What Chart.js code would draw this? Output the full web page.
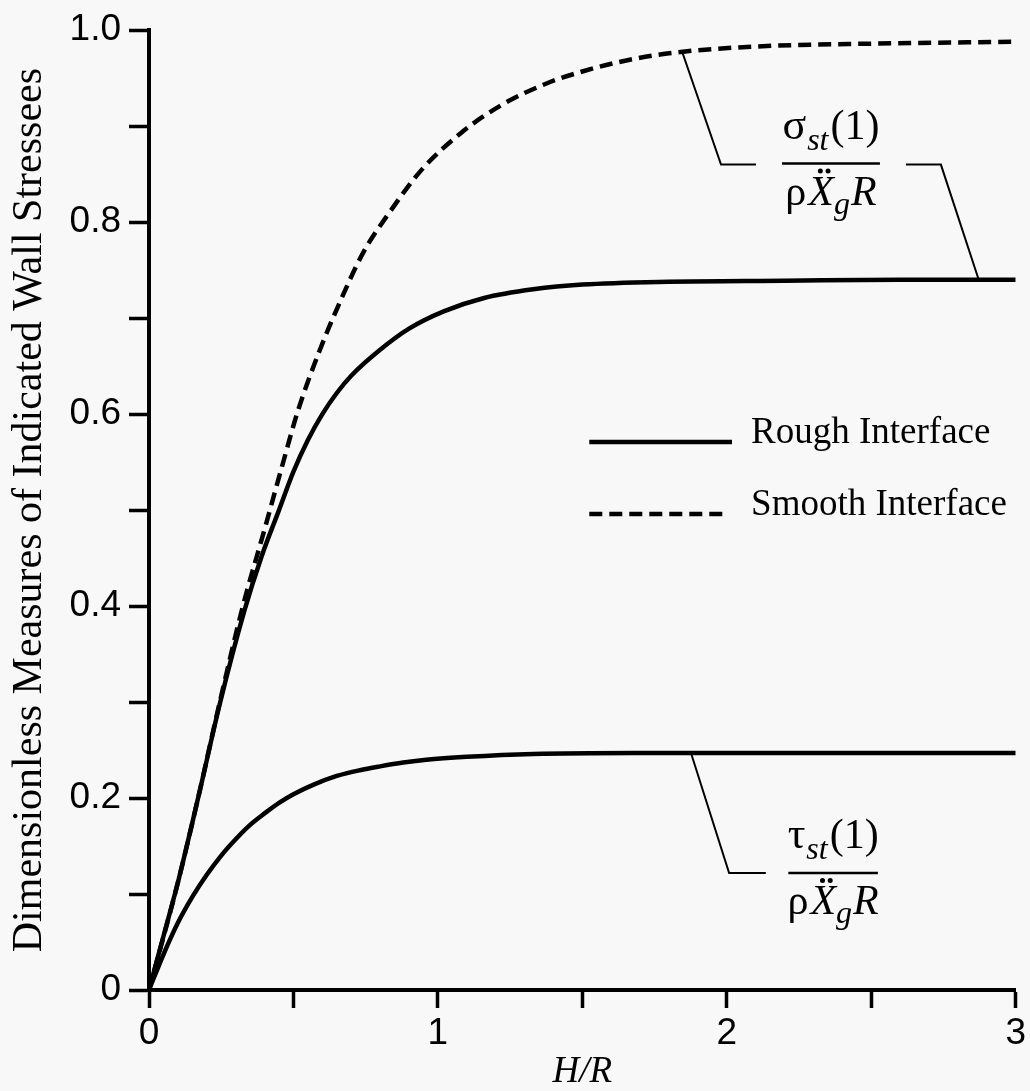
<!DOCTYPE html>
<html><head><meta charset="utf-8">
<script src="https://cdn.jsdelivr.net/npm/chart.js@4.4.0/dist/chart.umd.min.js"></script>
<style>
html,body{margin:0;padding:0;background:#f8f8f8;}
#wrap{width:1030px;height:1091px;position:relative;}
</style></head><body>
<div id="wrap"><canvas id="c" width="1030" height="1091"></canvas></div>
<script>
// ---- data ----
const roughSigmaX = [0, 0.05, 0.10, 0.17, 0.245, 0.33, 0.39, 0.45, 0.50, 0.55, 0.60, 0.65, 0.70, 0.80, 0.90, 1.02, 1.16, 1.33, 1.50, 1.80, 2.20, 2.60, 3.00];
const roughSigmaY = [0, 0.056, 0.112, 0.20, 0.298, 0.395, 0.452, 0.50, 0.54, 0.573, 0.60, 0.622, 0.640, 0.667, 0.689, 0.707, 0.721, 0.730, 0.735, 0.738, 0.739, 0.740, 0.740];
const smoothSigmaX = [0, 0.10, 0.17, 0.245, 0.325, 0.40, 0.46, 0.515, 0.589, 0.651, 0.741, 0.832, 0.945, 1.08, 1.22, 1.38, 1.50, 1.66, 1.83, 2.10, 2.50, 3.00];
const smoothSigmaY = [0, 0.112, 0.20, 0.30, 0.40, 0.48, 0.545, 0.603, 0.665, 0.71, 0.768, 0.81, 0.855, 0.893, 0.922, 0.945, 0.957, 0.969, 0.977, 0.983, 0.986, 0.988];
const roughTauX = [0, 0.05, 0.10, 0.15, 0.20, 0.25, 0.30, 0.35, 0.40, 0.45, 0.50, 0.57, 0.65, 0.73, 0.80, 0.88, 0.96, 1.10, 1.33, 1.68, 2.20, 3.00];
const roughTauY = [0, 0.037, 0.07, 0.097, 0.12, 0.14, 0.157, 0.172, 0.184, 0.195, 0.204, 0.214, 0.223, 0.229, 0.233, 0.237, 0.240, 0.243, 0.246, 0.247, 0.247, 0.247];
const xTickLabels = ['0', '1', '2', '3'];
const yTickLabels = ['0', '0.2', '0.4', '0.6', '0.8', '1.0'];
const legendNames = ['Rough Interface', 'Smooth Interface'];
const xTitle = 'H/R';
const yTitle = 'Dimensionless Measures of Indicated Wall Stressees';

const pts = (xs, ys) => xs.map((v, i) => ({x: v, y: ys[i]}));

const SERIF = '"Liberation Serif", "Times New Roman", serif';
const SANS = '"Liberation Sans", Arial, sans-serif';

function drawParts(ctx, parts, cx, baseY) {
  let total = 0;
  parts.forEach(p => { ctx.font = p.font; p.w = ctx.measureText(p.t).width + (p.extra || 0); total += p.w; });
  let xx = cx - total / 2;
  parts.forEach(p => {
    ctx.font = p.font;
    ctx.textAlign = 'left';
    ctx.textBaseline = 'alphabetic';
    ctx.fillText(p.t, xx, baseY + (p.dy || 0));
    if (p.dots) {
      const top = baseY - p.size * 0.66 - 6;
      ctx.beginPath(); ctx.arc(xx + p.w * 0.47, top, 2.5, 0, Math.PI * 2); ctx.fill();
      ctx.beginPath(); ctx.arc(xx + p.w * 0.77, top, 2.5, 0, Math.PI * 2); ctx.fill();
    }
    xx += p.w;
  });
}

function fraction(ctx, X, Y, sym, x0, x1, yv) {
  const px0 = X(x0), px1 = X(x1), py = Y(yv);
  ctx.lineWidth = 2.5;
  ctx.beginPath(); ctx.moveTo(px0, py); ctx.lineTo(px1, py); ctx.stroke();
  const cx = (px0 + px1) / 2;
  drawParts(ctx, [
    {t: sym, font: '44px ' + SERIF, size: 44, extra: 1},
    {t: 'st', font: 'italic 32px ' + SERIF, dy: 11, size: 32, extra: 2},
    {t: '(1)', font: '42px ' + SERIF, size: 42}
  ], cx, py - 25);
  drawParts(ctx, [
    {t: 'ρ', font: '42px ' + SERIF, size: 42, extra: 2},
    {t: 'X', font: 'italic 42px ' + SERIF, size: 42, dots: true},
    {t: 'g', font: 'italic 32px ' + SERIF, dy: 9, size: 32, extra: 1},
    {t: 'R', font: 'italic 42px ' + SERIF, size: 42}
  ], cx, py + 41);
}

function poly(ctx, X, Y, arr, w) {
  ctx.lineWidth = w;
  ctx.beginPath();
  arr.forEach((p, i) => { const a = X(p[0]), b = Y(p[1]); if (i) ctx.lineTo(a, b); else ctx.moveTo(a, b); });
  ctx.stroke();
}

const annot = {
  id: 'annot',
  afterDraw(chart) {
    const {ctx, scales} = chart;
    const X = v => scales.x.getPixelForValue(v);
    const Y = v => scales.y.getPixelForValue(v);
    ctx.save();
    ctx.strokeStyle = '#000'; ctx.fillStyle = '#000';
    ctx.lineCap = 'butt';
    // legend
    ctx.lineWidth = 4.5;
    ctx.beginPath(); ctx.moveTo(X(1.524), Y(0.571)); ctx.lineTo(X(2.018), Y(0.571)); ctx.stroke();
    ctx.setLineDash([13, 7]);
    ctx.beginPath(); ctx.moveTo(X(1.524), Y(0.496)); ctx.lineTo(X(2.0), Y(0.496)); ctx.stroke();
    ctx.setLineDash([]);
    ctx.font = '37px ' + SERIF; ctx.textAlign = 'left'; ctx.textBaseline = 'alphabetic';
    ctx.fillText(legendNames[0], X(2.084), Y(0.571) + 1);
    ctx.fillText(legendNames[1], X(2.084), Y(0.496) + 1);
    // sigma leader lines
    poly(ctx, X, Y, [[1.846, 0.977], [1.980, 0.860], [2.101, 0.860]], 2);
    poly(ctx, X, Y, [[2.620, 0.860], [2.741, 0.860], [2.872, 0.740]], 2);
    fraction(ctx, X, Y, 'σ', 2.191, 2.530, 0.861);
    // tau leader line
    poly(ctx, X, Y, [[1.876, 0.247], [2.008, 0.1218], [2.135, 0.1218]], 2);
    fraction(ctx, X, Y, 'τ', 2.213, 2.523, 0.1218);
    ctx.restore();
  }
};

new Chart(document.getElementById('c'), {
  type: 'line',
  data: {
    datasets: [
      {label: legendNames[1] + ' σ', data: pts(smoothSigmaX, smoothSigmaY), borderDash: [13, 7]},
      {label: legendNames[0] + ' σ', data: pts(roughSigmaX, roughSigmaY)},
      {label: legendNames[0] + ' τ', data: pts(roughTauX, roughTauY)}
    ].map(d => Object.assign({
      borderColor: '#000', borderWidth: 4.5, pointRadius: 0, fill: false,
      cubicInterpolationMode: 'monotone'
    }, d))
  },
  options: {
    responsive: false,
    animation: false,
    layout: {padding: {top: 27, right: 13, left: 0, bottom: 0}},
    plugins: {legend: {display: false}, tooltip: {enabled: false}},
    scales: {
      x: {
        type: 'linear', min: 0, max: 3,
        afterFit: s => { s.height = 101; },
        ticks: {
          stepSize: 0.5, autoSkip: false, maxRotation: 0, color: '#000', padding: 4,
          font: {family: SANS, size: 37},
          callback: v => xTickLabels.includes(String(v)) ? String(v) : ''
        },
        grid: {drawOnChartArea: false, drawTicks: true, tickLength: 18, tickWidth: 3.5, tickColor: '#000'},
        border: {display: true, color: '#000', width: 4},
        title: {display: true, text: xTitle, color: '#000', font: {family: SERIF, size: 37, style: 'italic', lineHeight: 1.0}, padding: {top: 0, bottom: 0}}
      },
      y: {
        min: 0, max: 1,
        afterFit: s => { s.width = 149; },
        ticks: {
          stepSize: 0.1, autoSkip: false, color: '#000', padding: 8,
          font: {family: SANS, size: 37},
          callback: v => { const s = v === 0 ? '0' : v.toFixed(1); return yTickLabels.includes(s) ? s : ''; }
        },
        grid: {drawOnChartArea: false, drawTicks: true, tickLength: 20, tickWidth: 3.5, tickColor: '#000'},
        border: {display: true, color: '#000', width: 4},
        title: {display: true, text: yTitle, color: '#000', font: {family: SERIF, size: 42, lineHeight: 1.2}, padding: {top: 5, bottom: 0}}
      }
    }
  },
  plugins: [annot]
});
</script>
</body></html>
